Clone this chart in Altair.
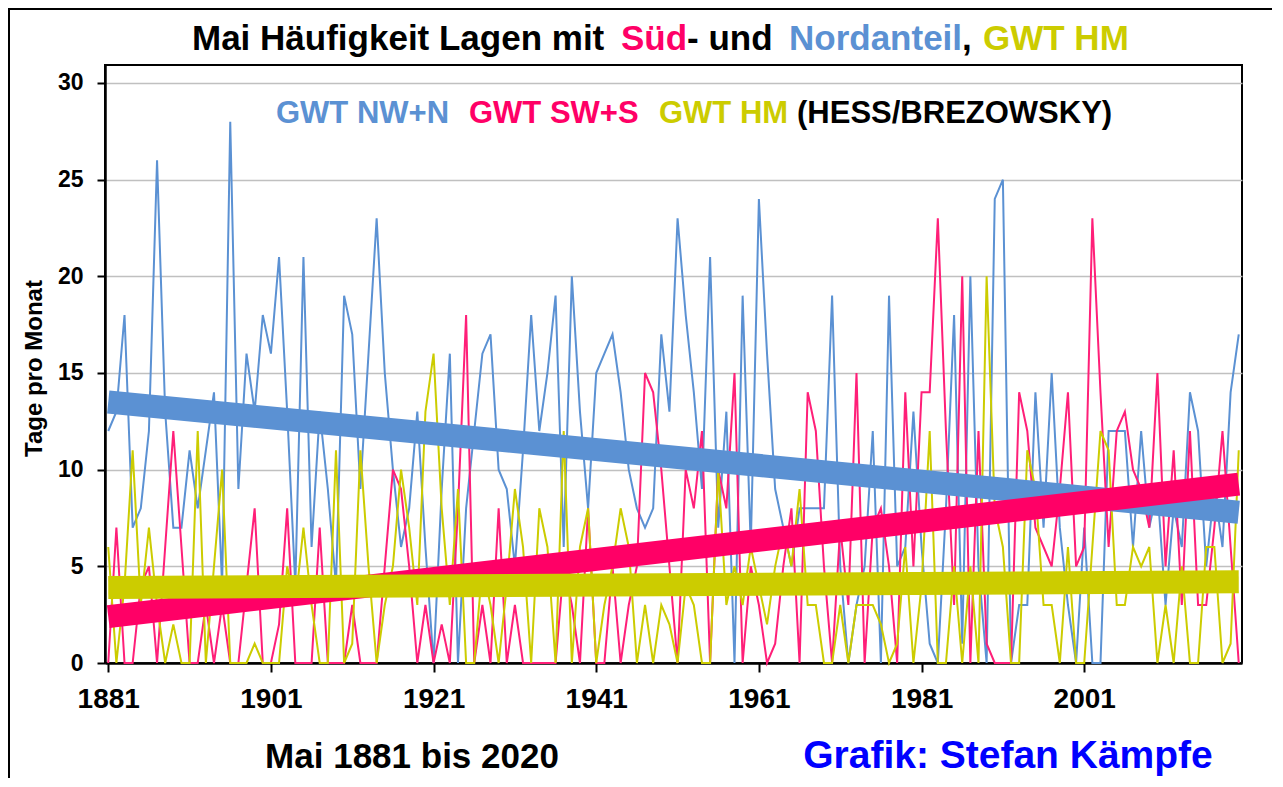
import altair as alt
import pandas as pd

FONT = "Liberation Sans"

years = list(range(1881, 2021))

# GWT NW+N (blue), Mai-Tage pro Jahr, 1881..2020
nw_n = [12, 13, 18, 7, 8, 12, 26, 13, 7, 7,
        11, 8, 11, 14, 4, 28, 9, 16, 13, 18,
        16, 21, 13, 4, 21, 6, 13, 9, 4, 19,
        17, 9, 16, 23, 15, 10, 6, 8, 13, 6,
        0, 9, 16, 0, 8, 12, 16, 17, 10, 9,
        5, 11, 18, 12, 15, 19, 6, 20, 13, 8,
        15, 16, 17, 14, 10, 8, 7, 8, 17, 13,
        23, 18, 14, 9, 21, 7, 13, 0, 19, 6,
        24, 16, 9, 7, 5, 8, 8, 8, 8, 19,
        5, 0, 3, 5, 12, 0, 19, 5, 6, 13,
        6, 1, 0, 8, 18, 1, 20, 5, 0, 24,
        25, 0, 3, 3, 14, 7, 15, 7, 3, 0,
        7, 0, 0, 12, 12, 12, 6, 12, 7, 9,
        3, 8, 6, 14, 12, 5, 9, 6, 14, 17]

# GWT SW+S (pink)
sw_s = [0, 7, 0, 0, 4, 5, 0, 6, 12, 6,
        0, 0, 3, 0, 3, 0, 0, 4, 8, 0,
        0, 2, 8, 0, 0, 0, 7, 0, 0, 0,
        3, 0, 0, 0, 5, 10, 9, 5, 0, 3,
        0, 2, 0, 8, 18, 0, 3, 0, 8, 0,
        3, 0, 0, 0, 0, 0, 5, 3, 0, 8,
        0, 0, 5, 0, 3, 5, 15, 14, 10, 5,
        0, 10, 8, 12, 0, 10, 8, 15, 0, 5,
        3, 0, 1, 5, 8, 0, 14, 12, 5, 0,
        7, 3, 15, 0, 7, 8, 5, 0, 14, 5,
        14, 14, 23, 12, 3, 20, 0, 12, 1, 0,
        0, 0, 14, 12, 7, 6, 5, 9, 14, 5,
        6, 23, 14, 6, 12, 13, 10, 9, 7, 15,
        5, 11, 3, 12, 3, 3, 7, 12, 6, 0]

# GWT HM (yellow)
hm = [6, 0, 4, 11, 3, 7, 3, 0, 2, 0,
      0, 12, 0, 5, 10, 0, 0, 0, 1, 0,
      0, 0, 5, 3, 7, 3, 0, 0, 11, 0,
      1, 11, 5, 0, 3, 5, 10, 7, 3, 13,
      16, 8, 3, 9, 0, 0, 5, 3, 0, 4,
      9, 6, 0, 8, 6, 0, 12, 0, 6, 8,
      0, 3, 5, 8, 6, 0, 3, 0, 3, 2,
      0, 4, 3, 0, 0, 10, 3, 5, 3, 6,
      4, 2, 5, 7, 5, 9, 3, 3, 0, 0,
      3, 0, 3, 3, 3, 2, 0, 1, 6, 0,
      4, 12, 0, 0, 5, 0, 5, 0, 20, 8,
      6, 0, 0, 11, 9, 3, 3, 0, 6, 0,
      0, 6, 12, 11, 3, 3, 6, 5, 6, 0,
      3, 0, 5, 0, 0, 6, 6, 0, 1, 11]

# linear trend lines (end points)
trend_years = [1881, 2020]
trend_nw_n = [13.5, 7.8]
trend_sw_s = [2.4, 9.25]
trend_hm = [3.9, 4.2]

x_ticks = [1881, 1901, 1921, 1941, 1961, 1981, 2001]
y_ticks = [0, 5, 10, 15, 20, 25, 30]

title_parts = ["Mai Häufigkeit Lagen mit", "Süd", "- und", "Nordanteil", ",", "GWT HM"]
legend_parts = ["GWT NW+N", "GWT SW+S", "GWT HM", "(HESS/BREZOWSKY)"]
y_title = "Tage pro Monat"
footer_left = "Mai 1881 bis 2020"
footer_right = "Grafik: Stefan Kämpfe"

BLUE = "#5B91D3"
PINK = "#FF0066"
PINK_THIN = "#FF1F78"
YELLOW = "#CCCC00"

assert len(nw_n) == len(sw_s) == len(hm) == len(years)

W, H = 1137, 598

x_axis = alt.Axis(values=x_ticks, format="d", grid=False, title=None,
                  domain=True, domainColor="black", domainWidth=2.5,
                  ticks=True, tickColor="black", tickSize=9, tickWidth=2,
                  labelFont=FONT, labelFontSize=28, labelFontWeight="bold",
                  labelColor="black", labelPadding=13, labelFlush=False,
                  labelOverlap=False)
y_axis = alt.Axis(values=y_ticks, grid=True, gridColor="#c0c0c0", gridWidth=1.5,
                  domain=True, domainColor="black", domainWidth=2.5,
                  ticks=True, tickColor="black", tickSize=8, tickWidth=2,
                  labelFont=FONT, labelFontSize=23, labelFontWeight="bold",
                  labelColor="black", labelPadding=14, labelFlush=False,
                  title=y_title, titleFont=FONT, titleFontSize=24,
                  titleFontWeight="bold", titleColor="black",
                  titleAngle=270, titleAlign="center", titleBaseline="middle",
                  titleX=-71, titleY=303)

X = alt.X("year:Q", scale=alt.Scale(domain=[1880.6, 2020.4], nice=False, zero=False), axis=x_axis)
Y = alt.Y("value:Q", scale=alt.Scale(domain=[0, 30.93], nice=False, zero=True), axis=y_axis)


def series_layer(vals, color, width, yrs=years, cap="butt"):
    df = pd.DataFrame({"year": yrs, "value": vals})
    return alt.Chart(df).mark_line(color=color, strokeWidth=width, strokeCap=cap).encode(x=X, y=Y)


def text_layer(txt, x, y, color="black", size=30, align="left"):
    return alt.Chart(pd.DataFrame({"t": [txt]})).mark_text(
        font=FONT, fontSize=size, fontWeight="bold", color=color,
        align=align, baseline="alphabetic"
    ).encode(text="t:N", x=alt.value(x), y=alt.value(y))


border = alt.Chart(pd.DataFrame({"a": [0]})).mark_rect(
    filled=False, stroke="black", strokeWidth=2
).encode(x=alt.value(-96), x2=alt.value(1250), y=alt.value(-56), y2=alt.value(760))

layers = [
    border,
    series_layer(nw_n, BLUE, 2),
    series_layer(sw_s, PINK_THIN, 2),
    series_layer(hm, YELLOW, 2),
    series_layer(trend_nw_n, BLUE, 23, trend_years),
    series_layer(trend_sw_s, PINK, 23, trend_years),
    series_layer(trend_hm, YELLOW, 23, trend_years),
]

# title pieces (positions relative to plot origin)
title_colors = ["black", PINK, "black", BLUE, "black", YELLOW]
title_x = [87, 516, 582, 684, 857, 878]
for txt, c, xx in zip(title_parts, title_colors, title_x):
    layers.append(text_layer(txt, xx, -15, c, 35))

legend_colors = [BLUE, PINK, YELLOW, "black"]
legend_x = [171, 364, 554, 692]
for txt, c, xx in zip(legend_parts, legend_colors, legend_x):
    layers.append(text_layer(txt, xx, 58, c, 31))

layers.append(text_layer(footer_left, 307, 703, "black", 35, "center"))
layers.append(text_layer(footer_right, 903, 703, "#0000FF", 39, "center"))

chart = alt.layer(*layers).properties(
    width=W, height=H,
    padding={"left": 97, "top": 57, "right": 30, "bottom": 115},
    autosize=alt.AutoSizeParams(type="none"),
    background="white",
).configure_view(stroke="black", strokeWidth=2)

chart.save("out.html", embed_options={"renderer": "svg", "actions": False})
